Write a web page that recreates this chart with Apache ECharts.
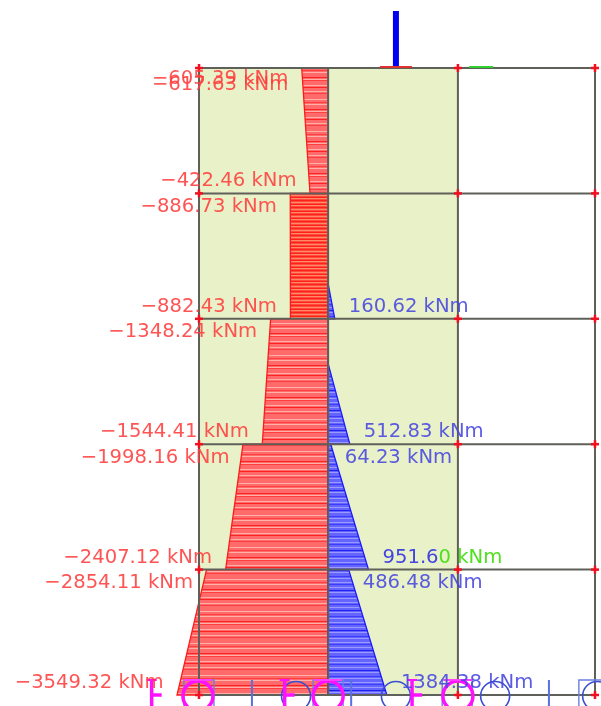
<!DOCTYPE html>
<html><head><meta charset="utf-8">
<style>html,body{margin:0;padding:0;background:#fff}#c{width:601px;height:706px}</style>
<script src="https://cdn.jsdelivr.net/npm/echarts@6/dist/echarts.min.js"></script>
</head><body><div id="c"></div>
<script>
// storey levels and column lines (structure axis units)
const levels = [5, 4, 3, 2, 1, 0];
const columns = [0, 6, 12.03, 18.4];

// negative bending moment: [top value, bottom value] per storey, from the top storey down
const redTop = [-617.63, -886.73, -1348.24, -1998.16, -2854.11];
const redBottom = [-422.46, -882.43, -1544.41, -2407.12, -3549.32];
const storeyTop = [5, 4, 3, 2, 1];
const storeyBottom = [4, 3, 2, 1, 0];

// positive bending moment per storey
const blueTopLevel = [3.285, 2.647, 2, 1];
const blueBottomLevel = [3, 2, 1, 0];
const blueTop = [0, 0, 64.23, 486.48];
const blueBottom = [160.62, 512.83, 951.60, 1384.38];

// end labels
const extraLabelValue = -605.39;
const extraLabelLevel = 5;

// supports along the foundation (structure axis units)
const magentaCircles = [-0.05, 6.0, 12.03];
const blueCircles = [4.51, 9.15, 13.76, 18.5];
const blueStems = [2.46, 7.07, 16.26];
const magentaStems = [-2.2, 3.98, 9.9];
const blueBoxes = [-0.7, 5.3, 11.3, 17.65];
const loadColumn = 9.15;
const greenMark = 12.6;

function stripes(colors) {
  const c = document.createElement('canvas');
  c.width = 4; c.height = colors.length;
  const g = c.getContext('2d');
  colors.forEach((col, i) => { g.fillStyle = col; g.fillRect(0, i, 4, 1); });
  return { image: c, repeat: 'repeat' };
}
const r0 = '#ff6a6a', r1 = '#ff4040', r2 = '#ffb0a8', r3 = '#ff2222';
const redPattern = stripes([r0, r0, r0, r2, r0, r0, r1, r0, r2, r0, r0, r0, r0, r3, r0, r2, r1, r0, r0, r0, r0, r2, r0, r3, r0, r0, r0, r2, r0, r1, r0, r0]);
const d0 = '#ff4a3c', d1 = '#ff2018', d2 = '#ff8a6a';
const redDense = stripes([d0, d1, d2, d0, d1, d0, d2]);
const b0 = '#6464ff', b1 = '#3c3cff', b2 = '#9a9aff', b3 = '#2020f0';
const bluePattern = stripes([b0, b0, b2, b0, b1, b0, b0, b2, b0, b0, b3, b0, b2, b0, b0, b0, b1, b0, b2, b0]);

const TEXT_RED = '#ff3c3c', TEXT_BLUE = '#4444e0';
const FONT = '19.6px "DejaVu Sans"';
const fmt = v => (v < 0 ? '\u2212' : '') + Math.abs(v).toFixed(2) + ' kNm';

const redLabels = [];
redTop.forEach((v, i) => {
  redLabels.push([v, storeyTop[i], i === 0 ? 17 : 13.5]);
  redLabels.push([redBottom[i], storeyBottom[i], -12]);
});
const blueLabels = [];
blueBottom.forEach((v, i) => {
  blueLabels.push([v, blueBottomLevel[i], -12]);
  if (blueTop[i] > 0) blueLabels.push([blueTop[i], blueTopLevel[i], 13.5]);
});

function cs(data, render, z, xi) {
  return { type: 'custom', data, renderItem: render, z, xAxisIndex: xi, yAxisIndex: 0, silent: true, animation: false, clip: false };
}
const L = (x1, y1, x2, y2, stroke, w) => ({ type: 'line', shape: { x1, y1, x2, y2 }, style: { stroke, lineWidth: w, fill: null } });

const option = {
  animation: false,
  backgroundColor: '#fff',
  grid: { left: 199, right: 6, top: 68, bottom: 11 },
  xAxis: [
    { type: 'value', min: -3032, max: 6276, show: false },
    { type: 'value', min: 0, max: 18.4, show: false }
  ],
  yAxis: { type: 'value', min: 0, max: 5, show: false },
  series: [
    cs([0], (p, api) => {
      const a = api.coord([columns[0], 5]), b = api.coord([columns[2], 0]);
      return { type: 'rect', shape: { x: a[0], y: a[1], width: b[0] - a[0], height: b[1] - a[1] }, style: { fill: '#e9f1c8' } };
    }, 1, 1),
    cs(redTop.map((v, i) => i), (p, api) => {
      const i = api.value(0);
      const pts = [[0, storeyTop[i]], [redTop[i], storeyTop[i]], [redBottom[i], storeyBottom[i]], [0, storeyBottom[i]]].map(q => api.coord(q));
      return { type: 'polygon', shape: { points: pts }, style: { fill: i === 1 ? redDense : redPattern, stroke: '#ff1a1a', lineWidth: 1.3 } };
    }, 2, 0),
    cs(blueBottom.map((v, i) => i), (p, api) => {
      const i = api.value(0);
      const pts = [[0, blueTopLevel[i]], [blueTop[i], blueTopLevel[i]], [blueBottom[i], blueBottomLevel[i]], [0, blueBottomLevel[i]]].map(q => api.coord(q));
      return { type: 'polygon', shape: { points: pts }, style: { fill: bluePattern, stroke: '#1a1aff', lineWidth: 1.3 } };
    }, 2, 0),
    cs(levels, (p, api) => {
      const a = api.coord([columns[0], api.value(0)]), b = api.coord([columns[3], api.value(0)]);
      return L(a[0], a[1], b[0], b[1], '#60605a', 2);
    }, 3, 1),
    cs(columns, (p, api) => {
      const a = api.coord([api.value(0), 5]), b = api.coord([api.value(0), 0]);
      return L(a[0], a[1], b[0], b[1], '#60605a', 2);
    }, 3, 1),
    cs(columns.filter((c, i) => i !== 1).flatMap(c => levels.map(l => [c, l])), (p, api) => {
      const c = api.coord([api.value(0), api.value(1)]);
      return { type: 'group', children: [L(c[0] - 4, c[1], c[0] + 4, c[1], '#f01020', 2.5), L(c[0], c[1] - 4, c[0], c[1] + 4, '#f01020', 2.5)] };
    }, 4, 1),
    cs([0], (p, api) => {
      const c = api.coord([loadColumn, 5]), g = api.coord([greenMark, 5]);
      return { type: 'group', children: [
        L(c[0], 11, c[0], c[1] - 1, '#0000f0', 6),
        L(c[0] - 16, c[1] - 1, c[0] + 16, c[1] - 1, '#e03030', 2),
        L(g[0] - 1, g[1] - 1, g[0] + 23, g[1] - 1, '#30d030', 2)
      ] };
    }, 4, 1),
    cs(blueCircles, (p, api) => {
      const c = api.coord([api.value(0), 0]);
      return { type: 'circle', shape: { cx: c[0], cy: c[1] + 1, r: 14.5 }, style: { fill: null, stroke: '#3a4fd0', lineWidth: 1.6 } };
    }, 5, 1),
    cs(blueStems, (p, api) => {
      const c = api.coord([api.value(0), 0]);
      return L(c[0], c[1] - 15, c[0], c[1] + 11, '#5a70e0', 2);
    }, 5, 1),
    cs(blueBoxes, (p, api) => {
      const c = api.coord([api.value(0), 0]);
      return { type: 'rect', shape: { x: c[0], y: c[1] - 15, width: 30, height: 30 }, style: { fill: null, stroke: '#6a80e0', lineWidth: 1.4 } };
    }, 5, 1),
    cs(magentaCircles, (p, api) => {
      const c = api.coord([api.value(0), 0]);
      return { type: 'group', children: [
        { type: 'circle', shape: { cx: c[0], cy: c[1] + 1, r: 15 }, style: { fill: null, stroke: '#ff10ff', lineWidth: 3.5 } },
        L(c[0] - 14, c[1] - 15, c[0] + 14, c[1] - 15, '#ff40ff', 2)
      ] };
    }, 6, 1),
    cs(magentaStems, (p, api) => {
      const c = api.coord([api.value(0), 0]);
      return { type: 'group', children: [
        L(c[0], c[1] - 15, c[0], c[1] + 11, '#ff10ff', 3.5),
        L(c[0] - 5, c[1] - 15, c[0] + 5, c[1] - 15, '#ff10ff', 2),
        L(c[0], c[1], c[0] + 10, c[1], '#ff10ff', 3.5)
      ] };
    }, 6, 1),
    cs(redLabels, (p, api) => {
      const c = api.coord([api.value(0), api.value(1)]);
      return { type: 'text', x: c[0] - 13.5, y: c[1] + api.value(2),
        style: { text: fmt(api.value(0)), font: FONT, fill: TEXT_RED, align: 'right', verticalAlign: 'middle', opacity: 0.88 } };
    }, 7, 0),
    cs([[extraLabelValue, extraLabelLevel]], (p, api) => {
      const c = api.coord([api.value(0), api.value(1)]);
      return { type: 'text', x: c[0] - 14, y: c[1] + 11,
        style: { text: fmt(api.value(0)), font: FONT, fill: TEXT_RED, align: 'right', verticalAlign: 'middle', opacity: 0.88 } };
    }, 7, 0),
    cs(blueLabels, (p, api) => {
      const c = api.coord([api.value(0), api.value(1)]);
      const t = fmt(api.value(0));
      const isSplit = t.indexOf('951.6') === 0;
      return { type: 'text', x: c[0] + 14, y: c[1] + api.value(2),
        style: isSplit
          ? { text: '{a|951.6}{b|0 kNm}', font: FONT, align: 'left', verticalAlign: 'middle',
              rich: { a: { font: FONT, fill: TEXT_BLUE }, b: { font: FONT, fill: '#50e020' } } }
          : { text: t, font: FONT, fill: TEXT_BLUE, align: 'left', verticalAlign: 'middle', opacity: 0.88 } };
    }, 7, 0)
  ]
};
const chart = echarts.init(document.getElementById('c'), null, { renderer: 'canvas', width: 601, height: 706 });
chart.setOption(option);
</script></body></html>
